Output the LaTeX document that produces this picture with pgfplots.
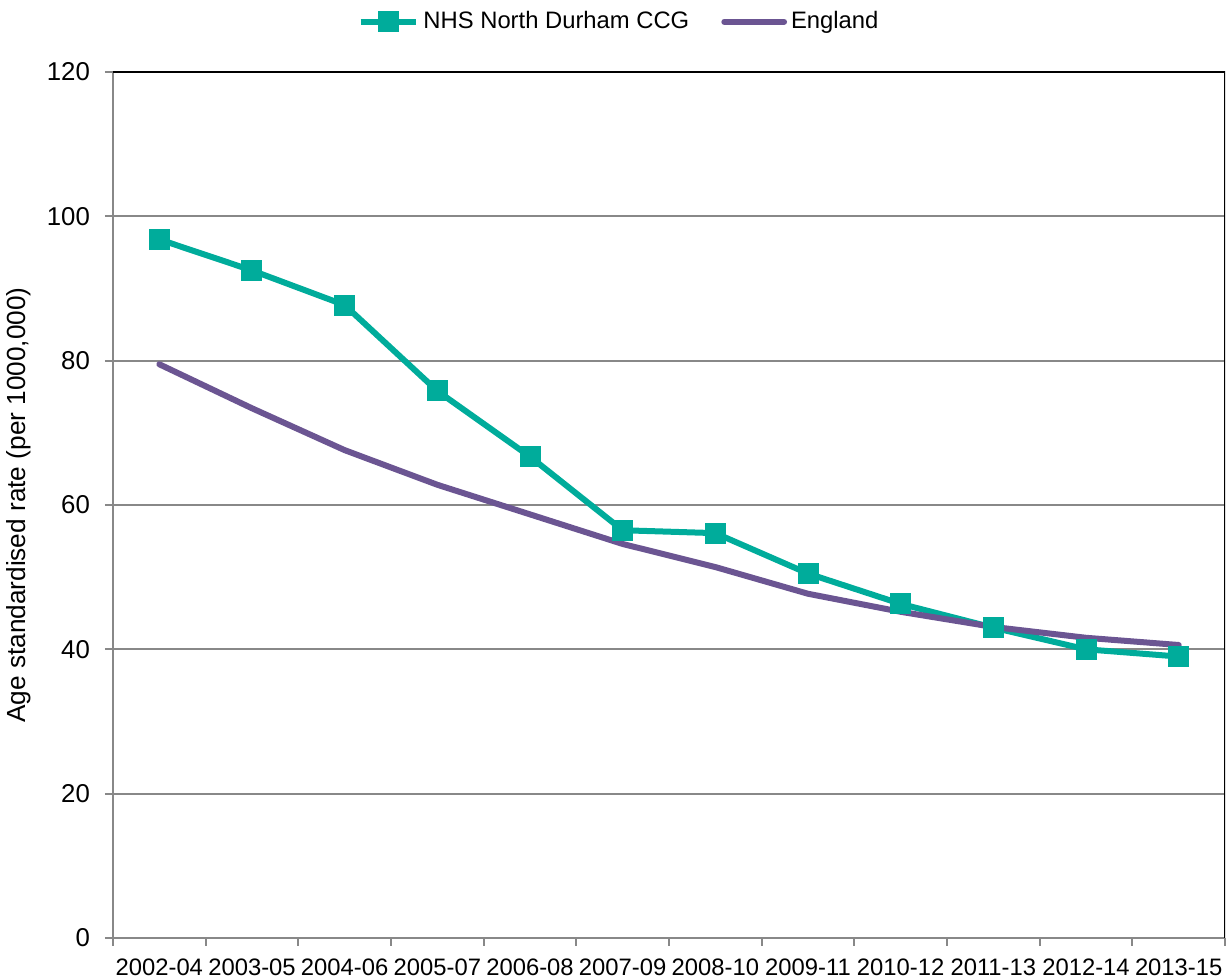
\documentclass[border=0pt]{standalone}
\usepackage{fontspec}
\setmainfont{Liberation Sans}
\usepackage{pgfplots}
\pgfplotsset{compat=1.18}
\definecolor{nhs}{HTML}{00AC9B}
\definecolor{eng}{HTML}{6B5592}
\definecolor{gridc}{HTML}{888888}
\pgfplotsset{
  nhslegend/.style={legend image code/.code={\draw[##1, mark=none] (0cm,0cm) -- (0.98cm,0cm);
    \draw[##1] plot[mark=square*] coordinates {(0.49cm,0cm)};}},
  englegend/.style={legend image code/.code={\draw[##1] (0cm,0cm) -- (1.05cm,0cm);}},
}
\begin{document}
\begin{tikzpicture}
\begin{axis}[
  at={(0,0)}, anchor=south west,
  scale only axis, width=556pt, height=433pt,
  xmin=-0.5, xmax=11.5, ymin=0, ymax=120,
  axis x line*=bottom, axis y line*=left,
  axis line style={draw=gridc, line width=1pt},
  ytick={0,20,...,120},
  xtick={0,...,11},
  xticklabels={2002-04,2003-05,2004-06,2005-07,2006-08,2007-09,2008-10,2009-11,2010-12,2011-13,2012-14,2013-15},
  major x tick style={draw=none},
  minor xtick={-0.5,0.5,...,11.5},
  minor x tick style={draw=gridc, line width=1pt},
  major y tick style={draw=gridc, line width=1pt},
  tick align=outside,
  major tick length=4pt, minor tick length=4pt,
  ymajorgrids, grid style={draw=gridc, line width=1pt},
  /pgf/number format/assume math mode=true,
  xticklabel style={font=\fontsize{11.9}{13}\selectfont, yshift=-3pt},
  yticklabel style={font=\fontsize{12.9}{14}\selectfont, xshift=-4pt},
  ylabel={Age standardised rate (per 1000,000)},
  ylabel style={at={(axis description cs:-0.0845,0.5)}, anchor=center, font=\fontsize{13.1}{15}\selectfont},
  legend style={at={(0.456,1.058)}, anchor=center, draw=none, font=\fontsize{11.9}{13}\selectfont,
    /tikz/every even column/.append style={column sep=14pt}},
  legend columns=2,
  legend cell align=left,
]
\addplot[nhs, line width=3pt, mark=square*, mark size=3.75pt, mark options={solid}, nhslegend]
coordinates {(0,96.8) (1,92.5) (2,87.7) (3,75.8) (4,66.7) (5,56.5) (6,56.1) (7,50.5) (8,46.3) (9,43.0) (10,40.0) (11,39.0)};
\addlegendentry{NHS North Durham CCG}
\addplot[eng, line width=3pt, line cap=round, englegend]
coordinates {(0,79.5) (1,73.4) (2,67.6) (3,62.8) (4,58.7) (5,54.6) (6,51.4) (7,47.7) (8,45.2) (9,43.1) (10,41.6) (11,40.6)};
\addlegendentry{England}
\draw[black, line width=1pt] (rel axis cs:0,1) -- (rel axis cs:1,1) -- (rel axis cs:1,0);
\end{axis}
\pgfresetboundingbox
\path (-56.5pt,-20pt) rectangle (557pt,469pt);
\end{tikzpicture}
\end{document}
